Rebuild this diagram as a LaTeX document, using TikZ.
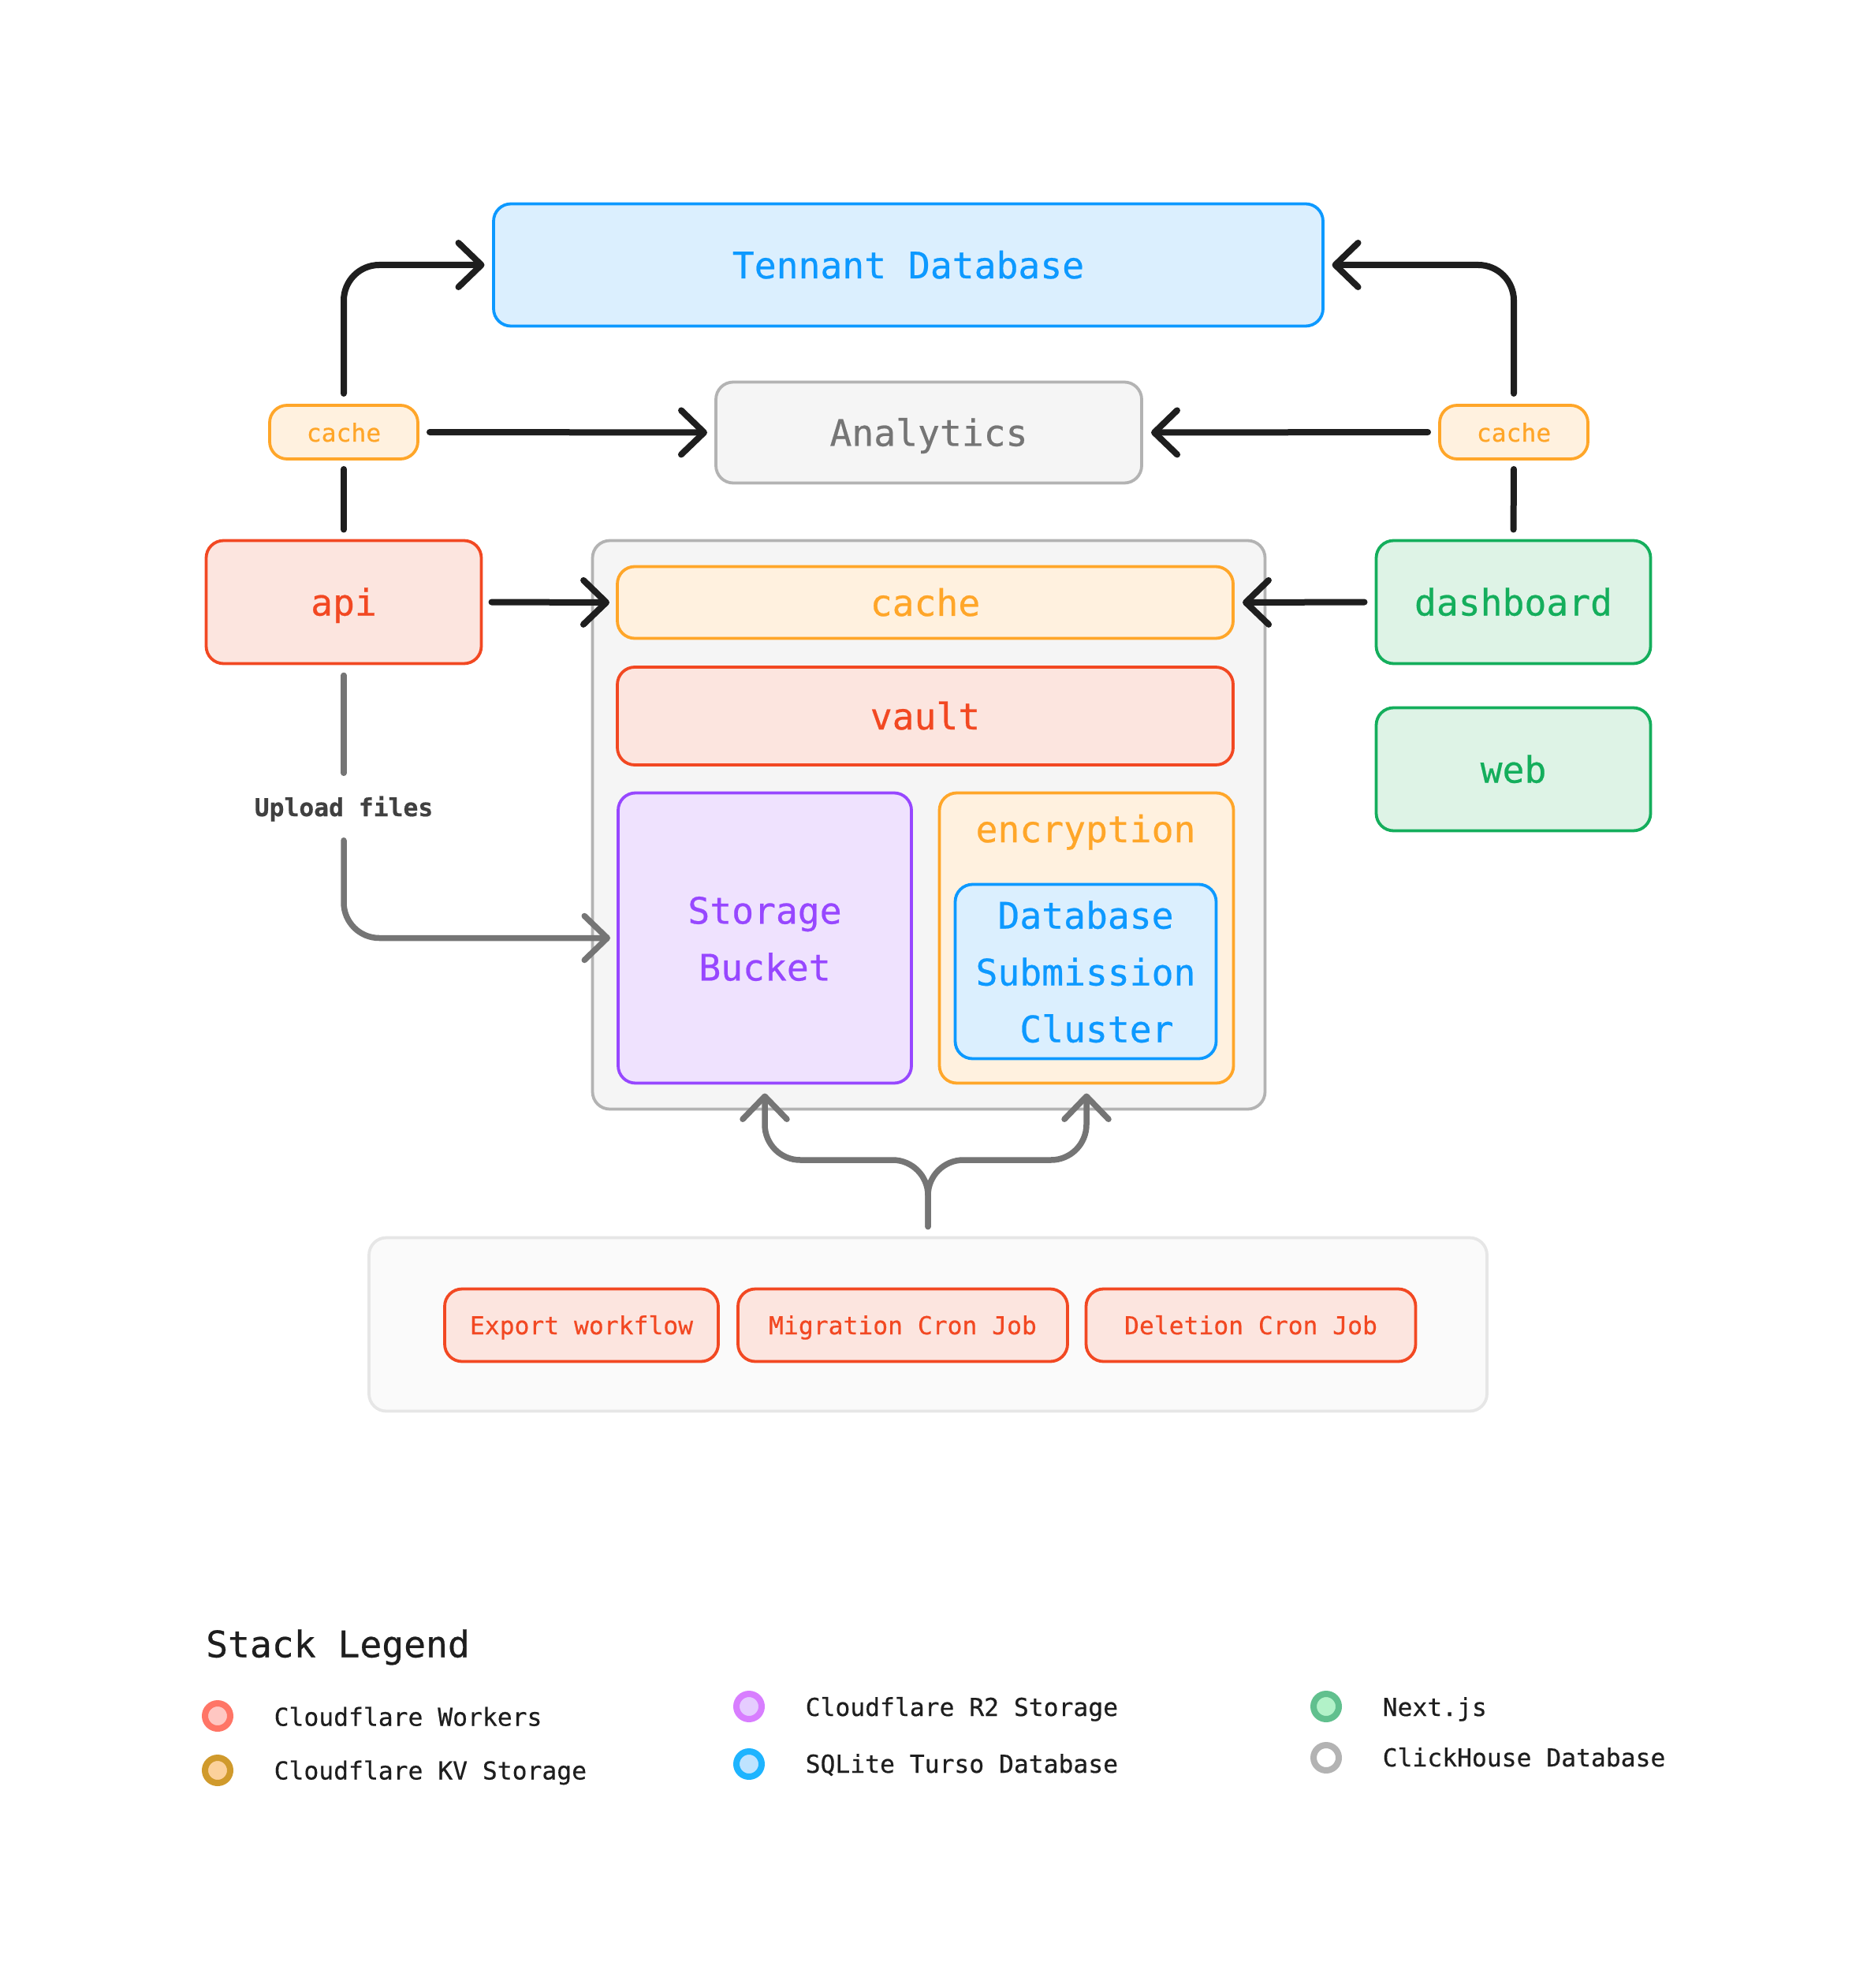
\documentclass[tikz,border=0pt]{standalone}
\usepackage{fontspec}
\setmonofont[RawFeature={embolden=0.5}]{DejaVu Sans Mono}
\usetikzlibrary{arrows.meta}
\definecolor{blueline}{HTML}{0D99FF}
\definecolor{bluefill}{HTML}{DBEFFE}
\definecolor{redline}{HTML}{F24822}
\definecolor{redfill}{HTML}{FCE5DF}
\definecolor{orangeline}{HTML}{FFA629}
\definecolor{orangefill}{HTML}{FFF1DF}
\definecolor{purpleline}{HTML}{9747FF}
\definecolor{purplefill}{HTML}{EFE2FE}
\definecolor{greenline}{HTML}{14AE5C}
\definecolor{greenfill}{HTML}{DEF3E6}
\definecolor{greyline}{HTML}{B3B3B3}
\definecolor{greyfill}{HTML}{F5F5F5}
\definecolor{greytext}{HTML}{757575}
\definecolor{inkline}{HTML}{1E1E1E}
\definecolor{panelline}{HTML}{E6E6E6}
\definecolor{panelfill}{HTML}{FAFAFA}
\definecolor{workersline}{HTML}{FF7566}
\definecolor{workersfill}{HTML}{FFC7C2}
\definecolor{kvline}{HTML}{D09A2C}
\definecolor{kvfill}{HTML}{FCD19C}
\definecolor{rtwoline}{HTML}{D87EFF}
\definecolor{rtwofill}{HTML}{E5CCFF}
\definecolor{tursoline}{HTML}{1EB4FF}
\definecolor{tursofill}{HTML}{BFE3FF}
\definecolor{nextline}{HTML}{61C08E}
\definecolor{nextfill}{HTML}{B2F2C8}
\newcommand{\bigtext}{\ttfamily\fontsize{13.18}{20.5}\selectfont}
\newcommand{\smalltext}{\ttfamily\fontsize{8.92}{12}\selectfont}
\tikzset{
  tile/.style={draw,line width=0.038cm,rounded corners=0.22cm,inner sep=0pt,outer sep=0pt,font=\bigtext,text height=0.34cm,text depth=0pt},
  bluetile/.style={tile,draw=blueline,fill=bluefill,text=blueline},
  redtile/.style={tile,draw=redline,fill=redfill,text=redline},
  orangetile/.style={tile,draw=orangeline,fill=orangefill,text=orangeline},
  purpletile/.style={tile,draw=purpleline,fill=purplefill,text=purpleline},
  greentile/.style={tile,draw=greenline,fill=greenfill,text=greenline},
  greytile/.style={tile,draw=greyline,fill=greyfill,text=greytext},
  jobtile/.style={redtile,font=\smalltext,text height=0.23cm},
  blackflow/.style={draw=inkline,line width=0.08cm,line cap=round,rounded corners=0.45cm},
  greyflow/.style={draw=greytext,line width=0.075cm,line cap=round,rounded corners=0.45cm},
  tip/.style={-{Straight Barb[length=0.29cm,width=0.56cm,round]}},
  dot/.style={circle,line width=0.08cm,minimum size=0.32cm,inner sep=0pt},
  legendtext/.style={font=\smalltext,text=inkline,anchor=base west,inner sep=0pt}
}
\begin{document}
\begin{tikzpicture}[y=-1cm]
\useasboundingbox (0,0) rectangle (23.67,25.21);
\node[bluetile,minimum width=10.52cm,minimum height=1.55cm] (tenant) at (11.52,3.36) {Tennant Database};
\node[greytile,minimum width=5.4cm,minimum height=1.28cm] (analytics) at (11.78,5.485) {Analytics};
\node[orangetile,font=\smalltext,text height=0.24cm,minimum width=1.88cm,minimum height=0.68cm] (cacheleft) at (4.36,5.48) {cache};
\node[orangetile,font=\smalltext,text height=0.24cm,minimum width=1.88cm,minimum height=0.68cm] (cacheright) at (19.2,5.48) {cache};
\node[redtile,minimum width=3.49cm,minimum height=1.56cm] (api) at (4.36,7.635) {api};
\node[greentile,minimum width=3.48cm,minimum height=1.56cm] (dashboard) at (19.195,7.635) {dashboard};
\node[greentile,minimum width=3.48cm,minimum height=1.56cm] (web) at (19.195,9.755) {web};
\node[greytile,minimum width=8.53cm,minimum height=7.21cm] (worker) at (11.78,10.46) {};
\node[orangetile,minimum width=7.81cm,minimum height=0.91cm] (cachemain) at (11.735,7.64) {cache};
\node[redtile,minimum width=7.81cm,minimum height=1.24cm] (vault) at (11.735,9.08) {vault};
\node[purpletile,minimum width=3.72cm,minimum height=3.68cm] (storage) at (9.7,11.895) {};
\node[font=\bigtext,text=purpleline,align=center,inner sep=0pt] (storagetext) at (9.7,11.905) {Storage\\Bucket};
\node[orangetile,minimum width=3.73cm,minimum height=3.68cm] (encryption) at (13.78,11.895) {};
\node[font=\bigtext,text=orangeline,text height=0.34cm,text depth=0pt,inner sep=0pt] (encryptiontext) at (13.77,10.51) {encryption};
\node[bluetile,text height=,align=center,minimum width=3.31cm,minimum height=2.21cm] (submission) at (13.77,12.32) {Database\\Submission\\\phantom{x}Cluster};
\node[tile,draw=panelline,fill=panelfill,minimum width=14.18cm,minimum height=2.2cm] (jobs) at (11.77,16.795) {};
\node[jobtile,minimum width=3.47cm,minimum height=0.92cm] (export) at (7.375,16.805) {Export workflow};
\node[jobtile,minimum width=4.18cm,minimum height=0.92cm] (migration) at (11.45,16.805) {Migration Cron Job};
\node[jobtile,minimum width=4.18cm,minimum height=0.92cm] (deletion) at (15.865,16.805) {Deletion Cron Job};
\node[font=\smalltext\bfseries,text=inkline!85,inner sep=0pt,text height=0.2cm,text depth=0pt] (upload) at (4.36,10.25) {Upload files};
\coordinate (split) at (11.77,14.71);
\draw[blackflow,tip,shorten <=0.15cm,shorten >=0.115cm] (cacheleft.north) |- (tenant.west);
\draw[blackflow,tip,shorten <=0.15cm,shorten >=0.115cm] (cacheright.north) |- (tenant.east);
\draw[blackflow,tip,shorten <=0.15cm,shorten >=0.11cm] (cacheleft.east) -- (analytics.west);
\draw[blackflow,tip,shorten <=0.15cm,shorten >=0.12cm] (cacheright.west) -- (analytics.east);
\draw[blackflow,shorten <=0.14cm,shorten >=0.13cm] (api.north) -- (cacheleft.south);
\draw[blackflow,shorten <=0.14cm,shorten >=0.13cm] (dashboard.north) -- (cacheright.south);
\draw[blackflow,tip,shorten <=0.13cm,shorten >=0.1cm] (api.east) -- (cachemain.west);
\draw[blackflow,tip,shorten <=0.15cm,shorten >=0.12cm] (dashboard.west) -- (cachemain.east);
\draw[greyflow,shorten <=0.15cm,shorten >=0.34cm] (api.south) -- (upload.north);
\draw[greyflow,tip,shorten <=0.3cm,shorten >=0.1cm] (upload.south) |- (storage.west);
\draw[greyflow,tip,shorten <=0.14cm,shorten >=0.13cm] (jobs.north) -- (split) -| (encryption.south);
\draw[greyflow,tip,shorten <=0.14cm,shorten >=0.13cm] (jobs.north) -- (split) -| (storage.south);
\node[font=\bigtext,text=inkline,anchor=base west,inner sep=0pt] (legendtitle) at (2.605,21.015) {Stack Legend};
\node[dot,draw=workersline,fill=workersfill] (dotworkers) at (2.76,21.76) {};
\node[dot,draw=kvline,fill=kvfill] (dotkv) at (2.76,22.45) {};
\node[dot,draw=rtwoline,fill=rtwofill] (dotrtwo) at (9.5,21.64) {};
\node[dot,draw=tursoline,fill=tursofill] (dotturso) at (9.5,22.37) {};
\node[dot,draw=nextline,fill=nextfill] (dotnext) at (16.82,21.64) {};
\node[dot,draw=greyline,fill=white] (dotclick) at (16.82,22.29) {};
\node[legendtext] (textworkers) at (3.47,21.885) {Cloudflare Workers};
\node[legendtext] (textkv) at (3.47,22.565) {Cloudflare KV Storage};
\node[legendtext] (textrtwo) at (10.21,21.76) {Cloudflare R2 Storage};
\node[legendtext] (textturso) at (10.21,22.48) {SQLite Turso Database};
\node[legendtext] (textnext) at (17.53,21.76) {Next.js};
\node[legendtext] (textclick) at (17.53,22.4) {ClickHouse Database};
\end{tikzpicture}
\end{document}
